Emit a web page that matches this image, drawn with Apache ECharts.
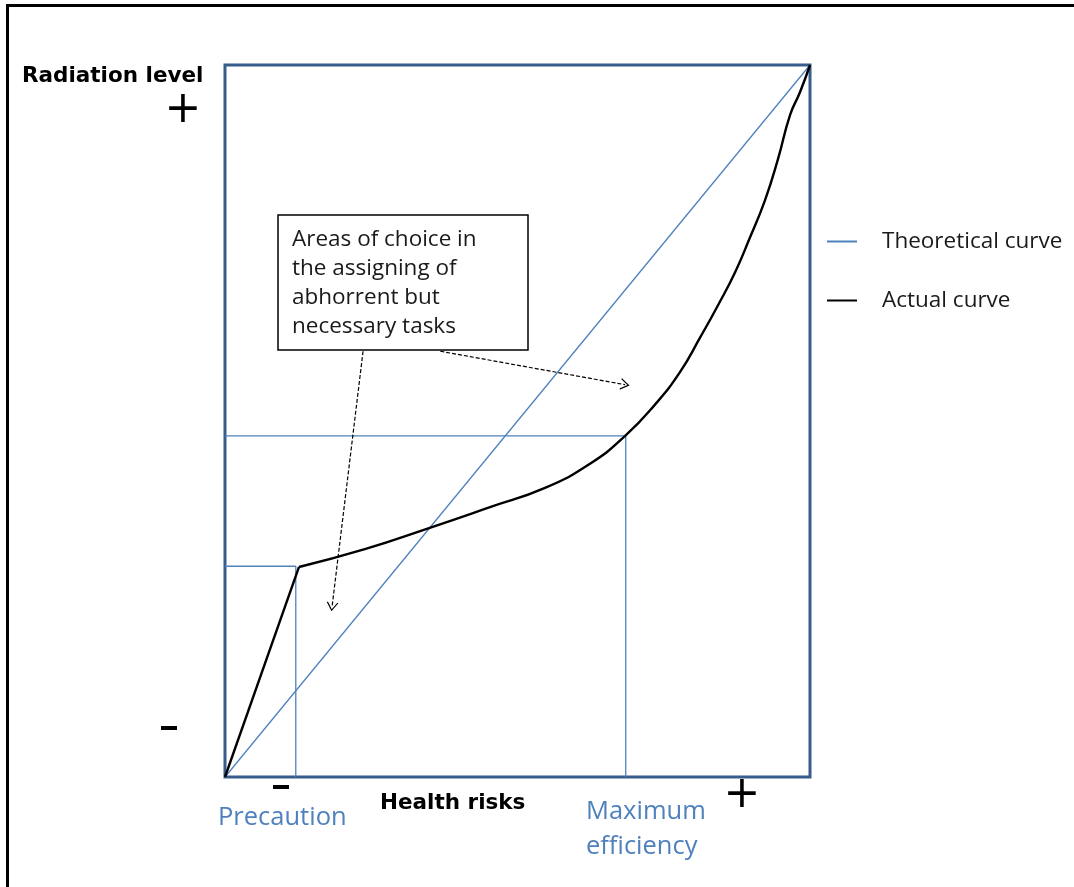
<!DOCTYPE html>
<html><head><meta charset="utf-8">
<script src="https://cdn.jsdelivr.net/npm/echarts@6/dist/echarts.min.js"></script>
<style>html,body{margin:0;padding:0;background:#fff}#c{width:1074px;height:887px}</style>
</head><body><div id="c"></div>
<script>
const seriesNames = ['Theoretical curve', 'Actual curve'];
const theoretical = [[0, 0], [100, 100]];
const actualStraight = [[0, 0], [12.65, 29.5]];
const actualCurve = [[12.65, 29.5], [23.9, 32.0], [35.0, 35.0], [45.3, 37.9], [54.7, 40.6], [62.4, 44.0], [68.4, 47.9], [73.5, 52.3], [77.8, 56.9], [81.2, 61.7], [84.3, 66.3], [87.2, 70.9], [89.7, 75.7], [92.3, 81.0], [94.5, 86.7], [96.6, 93.0], [98.3, 96.2], [100, 100]];
const precautionGuide = [[0, 29.6], [12.1, 29.6], [12.1, 0]];
const maxEffGuide = [[0, 47.9], [68.5, 47.9], [68.5, 0]];
const arrows = [[[23.6, 59.8], [18.3, 23.9]], [[36.8, 59.8], [68.4, 55.1]]];
const boxLines = ['Areas of choice in', 'the assigning of', 'abhorrent but', 'necessary tasks'];
const labels = { yName: 'Radiation level', xName: 'Health risks', low: 'Precaution', high: ['Maximum', 'efficiency'] };

const BLUE = '#4f81bd', FRAME = '#385d8a';
const chart = echarts.init(document.getElementById('c'), null, { renderer: 'canvas' });
const guideStyle = { color: BLUE, width: 1.3 };
const bold = '"DejaVu Sans"';
const body = 'Open Sans';
chart.setOption({
  animation: false,
  grid: { left: 225, top: 65, width: 585, height: 712, show: true, borderColor: FRAME, borderWidth: 3, backgroundColor: 'transparent' },
  xAxis: { type: 'value', min: 0, max: 100, show: false },
  yAxis: { type: 'value', min: 0, max: 100, show: false },
  legend: {
    orient: 'vertical', left: 822, top: 225, itemGap: 36, itemWidth: 30, itemHeight: 2,
    textStyle: { fontFamily: body, fontSize: 22.5, color: '#1a1a1a', padding: [0, 0, 0, 20] },
    data: [{ name: seriesNames[0], icon: 'rect' }, { name: seriesNames[1], icon: 'rect' }]
  },
  series: [
    { name: seriesNames[0], type: 'line', data: theoretical, symbol: 'none', lineStyle: guideStyle, color: BLUE,
      markLine: { silent: true, symbol: ['none', 'path://M0,10 L5,0 L10,10 L8.8,10 L5,2.4 L1.2,10 Z'], symbolSize: [12, 9],
        lineStyle: { color: '#000', type: [4, 2], width: 1.2 }, label: { show: false },
        data: arrows.map(a => [{ coord: a[0] }, { coord: a[1] }]) } },
    { name: 'g1', type: 'line', data: precautionGuide, symbol: 'none', lineStyle: guideStyle, color: BLUE },
    { name: 'g2', type: 'line', data: maxEffGuide, symbol: 'none', lineStyle: guideStyle, color: BLUE },
    { name: seriesNames[1], type: 'line', data: actualStraight, symbol: 'none', lineStyle: { color: '#000', width: 2.4 }, color: '#000' },
    { name: seriesNames[1], type: 'line', data: actualCurve, symbol: 'none', smooth: 0.5, lineStyle: { color: '#000', width: 2.4 }, color: '#000' }
  ],
  graphic: [
    { type: 'line', shape: { x1: 7.5, y1: 4, x2: 7.5, y2: 887 }, style: { stroke: '#000', lineWidth: 3 } },
    { type: 'line', shape: { x1: 6, y1: 5.5, x2: 1074, y2: 5.5 }, style: { stroke: '#000', lineWidth: 3 } },
    { type: 'rect', shape: { x: 278, y: 215, width: 250, height: 135 }, style: { fill: '#fff', stroke: '#000', lineWidth: 1.5 }, z: 10 },
    ...boxLines.map((t, i) => ({ type: 'text', x: 292, y: 240 + i * 29, z: 11, style: { text: t, font: '22.5px "' + body + '"', fill: '#1a1a1a', verticalAlign: 'middle' } })),
    { type: 'text', x: 22, y: 76, style: { text: labels.yName, font: 'bold 21.5px ' + bold, fill: '#000', verticalAlign: 'middle' } },
    { type: 'text', x: 380, y: 803, style: { text: labels.xName, font: 'bold 21.5px ' + bold, fill: '#000', verticalAlign: 'middle' } },
    { type: 'text', x: 183, y: 111, style: { text: '+', font: '44px "DejaVu Sans"', fill: '#000', align: 'center', verticalAlign: 'middle' } },
    { type: 'text', x: 742, y: 796, style: { text: '+', font: '44px "DejaVu Sans"', fill: '#000', align: 'center', verticalAlign: 'middle' } },
    { type: 'rect', shape: { x: 161, y: 726, width: 16, height: 4 }, style: { fill: '#000' } },
    { type: 'rect', shape: { x: 273, y: 785, width: 16, height: 4 }, style: { fill: '#000' } },
    { type: 'text', x: 218, y: 818, style: { text: labels.low, font: '25.5px "' + body + '"', fill: BLUE, verticalAlign: 'middle' } },
    ...labels.high.map((t, i) => ({ type: 'text', x: 586, y: 812 + i * 35, style: { text: t, font: '25.5px "' + body + '"', fill: BLUE, verticalAlign: 'middle' } }))
  ]
});
</script></body></html>
